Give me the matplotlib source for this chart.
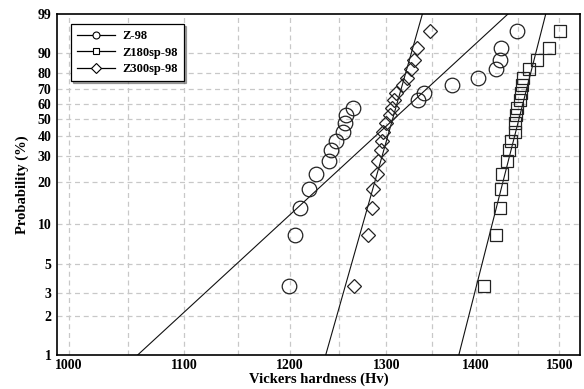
import numpy as np
import matplotlib
matplotlib.use("Agg")
import matplotlib.pyplot as plt
from matplotlib.lines import Line2D
from matplotlib.ticker import FixedLocator, NullLocator

plt.rcParams['font.family'] = ['Liberation Serif', 'DejaVu Serif']
plt.rcParams['font.weight'] = 'bold'

# hardness readings (Hv), sorted, 20 indents per sample
z98 = [1199, 1205, 1210, 1220, 1227, 1240, 1242, 1247, 1254, 1256,
       1257, 1265, 1335, 1341, 1373, 1403, 1423, 1428, 1429, 1449]
z180sp = [1410, 1423, 1428, 1429, 1431, 1437, 1439, 1441, 1446, 1446,
          1447, 1449, 1452, 1453, 1454, 1456, 1463, 1473, 1487, 1501]
z300sp = [1266, 1280, 1285, 1286, 1290, 1291, 1294, 1295, 1297, 1300,
          1304, 1306, 1308, 1311, 1318, 1322, 1327, 1330, 1334, 1348]

# fitted Weibull parameters (shape m, scale eta)
names = ['Z-98', 'Z180sp-98', 'Z300sp-98']
shape = [20.0, 85.2, 76.6]
scale = [1332, 1457, 1313]
markers = ['o', 's', 'D']

x_ticks = [1000, 1100, 1200, 1300, 1400, 1500]
x_grid = [1000, 1050, 1100, 1150, 1200, 1250, 1300, 1350, 1400, 1450, 1500]
y_ticks = [1, 2, 3, 5, 10, 20, 30, 40, 50, 60, 70, 80, 90, 99]


def weib_fwd(p):
    p = np.clip(np.asarray(p, dtype=float), 1e-6, 100 - 1e-6)
    return np.log(-np.log(1 - p / 100.0))


def weib_inv(y):
    return 100.0 * (1 - np.exp(-np.exp(y)))


def median_rank(n):
    i = np.arange(1, n + 1)
    return 100.0 * (i - 0.3) / (n + 0.4)


fig = plt.figure(figsize=(5.84, 3.89), dpi=100)
ax = fig.add_axes([57 / 584, 34 / 389, 523 / 584, 341 / 389])
ax.set_xscale('log')
ax.set_yscale('function', functions=(weib_fwd, weib_inv))

msize = {'o': 10.5, 's': 8.5, 'D': 7.2}
for data, name, m, eta, mk in zip([z98, z180sp, z300sp], names, shape, scale, markers):
    prob = median_rank(len(data))
    ax.plot(data, prob, linestyle='none', marker=mk, markersize=msize[mk],
            markerfacecolor='none', markeredgecolor='#222222',
            markeredgewidth=0.9, zorder=3)
    p_line = np.linspace(0.5, 99.5, 400)
    x_line = eta * (-np.log(1 - p_line / 100.0)) ** (1.0 / m)
    ax.plot(x_line, p_line, color='#111111', lw=0.8, zorder=2)

ax.set_xlim(990, 1526)
ax.set_ylim(1, 99)

ax.xaxis.set_major_locator(FixedLocator(x_ticks))
ax.xaxis.set_minor_locator(NullLocator())
ax.set_xticklabels([str(v) for v in x_ticks])
ax.yaxis.set_major_locator(FixedLocator(y_ticks))
ax.yaxis.set_minor_locator(NullLocator())
ax.set_yticklabels([str(v) for v in y_ticks])
ax.tick_params(axis='both', labelsize=10, length=0)
ax.tick_params(axis='x', pad=3)
ax.tick_params(axis='y', pad=4)

# dashed grid, vertical lines every 50 Hv
for gx in x_grid:
    ax.axvline(gx, color='#c8c8c8', lw=0.9, ls=(0, (4, 3)), zorder=1)
for gy in y_ticks[1:-1]:
    ax.axhline(gy, color='#c8c8c8', lw=0.9, ls=(0, (4, 3)), zorder=1)

for sp in ax.spines.values():
    sp.set_linewidth(1.2)
    sp.set_color('black')

ax.set_xlabel('Vickers hardness (Hv)', fontsize=10.5, fontweight='bold', labelpad=0)
ax.set_ylabel('Probability (%)', fontsize=10.5, fontweight='bold', labelpad=6)

handles = [Line2D([], [], color='black', lw=0.9, marker=mk, markersize=5,
                  markerfacecolor='white', markeredgecolor='black',
                  markeredgewidth=0.8) for mk in ['o', 's', 'D']]
leg = ax.legend(handles, names, loc='upper left', bbox_to_anchor=(0.027, 0.971),
                borderaxespad=0, fontsize=9, frameon=True, fancybox=False,
                edgecolor='black', handlelength=3.0, handletextpad=0.6,
                labelspacing=0.35, borderpad=0.5,
                shadow={'ox': 1.5, 'oy': -1.5, 'color': '#555555'})
leg.get_frame().set_linewidth(0.9)
for t in leg.get_texts():
    t.set_fontweight('bold')

fig.savefig('out.png', dpi=100, facecolor='white')
